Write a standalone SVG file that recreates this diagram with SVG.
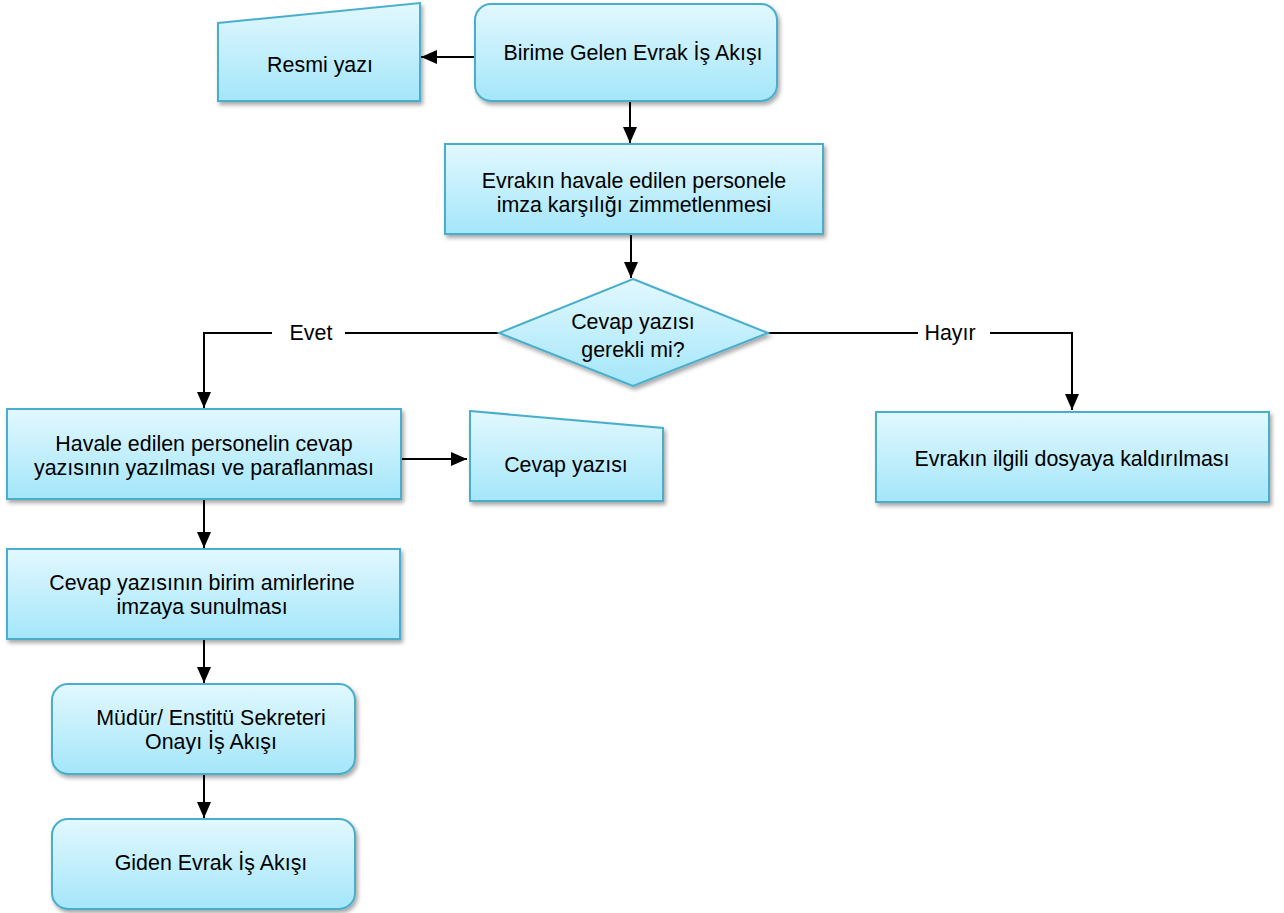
<svg xmlns="http://www.w3.org/2000/svg" width="1284" height="913" viewBox="0 0 1284 913">
<defs>
<linearGradient id="g" x1="0" y1="0" x2="0" y2="1">
<stop offset="0" stop-color="#e2f8fe"/>
<stop offset="1" stop-color="#a4e6fa"/>
</linearGradient>
<filter id="sh" x="-10%" y="-10%" width="130%" height="140%">
<feGaussianBlur in="SourceAlpha" stdDeviation="2"/>
<feOffset dx="2" dy="3"/>
<feComponentTransfer><feFuncA type="linear" slope="0.35"/></feComponentTransfer>
<feMerge><feMergeNode/><feMergeNode in="SourceGraphic"/></feMerge>
</filter>
<marker id="ahb" viewBox="0 0 16 16" markerWidth="16" markerHeight="16" refX="16" refY="8" orient="auto" markerUnits="userSpaceOnUse">
<path d="M0,1 L16,8 L0,15 z" fill="#000"/>
</marker>
</defs>
<style>
.n{fill:url(#g);stroke:#4aaecb;stroke-width:2;filter:url(#sh)}
.t{font-family:"Liberation Sans",Arial,sans-serif;font-size:21.4px;fill:#000;text-anchor:middle}
.c{fill:none;stroke:#000;stroke-width:2;marker-end:url(#ahb)}
</style>
<rect width="1284" height="913" fill="#fff"/>
<g id="connectors">
<path class="c" d="M475,57 L421,57"/>
<path class="c" d="M630,101 L630,143"/>
<path class="c" d="M631,234 L631,278"/>
<path class="c" d="M499,333 L345,333 M272,333 L204,333 L204,408"/>
<path class="c" d="M768,333 L918,333 M990,333 L1072,333 L1072,410"/>
<path class="c" d="M401,459 L467,459"/>
<path class="c" d="M204,499 L204,548"/>
<path class="c" d="M204,639 L204,683"/>
<path class="c" d="M204,774 L204,818"/>
<text class="t" x="311" y="340">Evet</text>
<text class="t" x="950" y="340">Hayır</text>
</g>
<g id="n1">
<rect class="n" x="475" y="4" width="302" height="97" rx="16"/>
<text class="t" x="633" y="60">Birime Gelen Evrak İş Akışı</text>
</g>
<g id="n2">
<path class="n" d="M218,23 L420,3 L420,101 L218,101 z"/>
<text class="t" x="320" y="72">Resmi yazı</text>
</g>
<g id="n3">
<rect class="n" x="445" y="144" width="378" height="90"/>
<text class="t" x="634" y="188">Evrakın havale edilen personele</text>
<text class="t" x="634" y="212">imza karşılığı zimmetlenmesi</text>
</g>
<g id="n4">
<path class="n" d="M633,279 L768,333 L633,386 L499,333 z"/>
<text class="t" x="633" y="329">Cevap yazısı</text>
<text class="t" x="633" y="357">gerekli mi?</text>
</g>
<g id="n5">
<rect class="n" x="7" y="409" width="394" height="90"/>
<text class="t" x="204" y="451">Havale edilen personelin cevap</text>
<text class="t" x="204" y="475">yazısının yazılması ve paraflanması</text>
</g>
<g id="n6">
<path class="n" d="M470,411 L663,428 L663,501 L470,501 z"/>
<text class="t" x="566" y="472">Cevap yazısı</text>
</g>
<g id="n7">
<rect class="n" x="876" y="412" width="393" height="90"/>
<text class="t" x="1072" y="466">Evrakın ilgili dosyaya kaldırılması</text>
</g>
<g id="n8">
<rect class="n" x="7" y="549" width="393" height="90"/>
<text class="t" x="202" y="590">Cevap yazısının birim amirlerine</text>
<text class="t" x="202" y="614">imzaya sunulması</text>
</g>
<g id="n9">
<rect class="n" x="52" y="684" width="303" height="90" rx="16"/>
<text class="t" x="211" y="725">Müdür/ Enstitü Sekreteri</text>
<text class="t" x="211" y="749">Onayı İş Akışı</text>
</g>
<g id="n10">
<rect class="n" x="52" y="819" width="303" height="90" rx="16"/>
<text class="t" x="211" y="870">Giden Evrak İş Akışı</text>
</g>
</svg>
